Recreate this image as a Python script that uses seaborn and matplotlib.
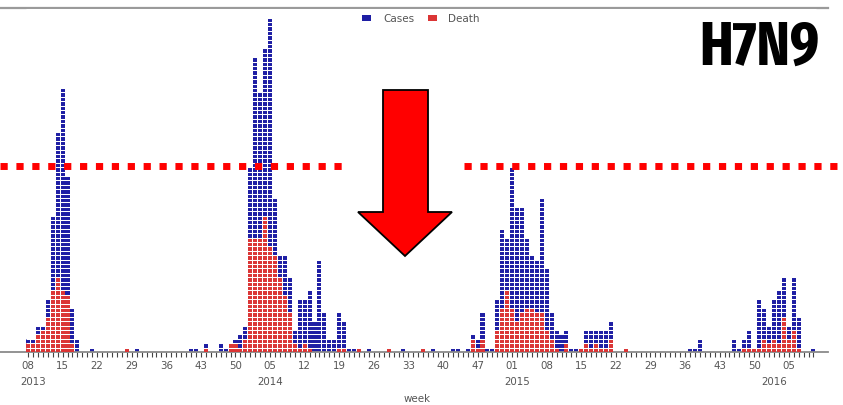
import matplotlib
matplotlib.use("Agg")
import matplotlib.pyplot as plt
import seaborn as sns
import pandas as pd
import numpy as np
from matplotlib.patches import Patch, Polygon
from matplotlib.lines import Line2D
from matplotlib import font_manager
from matplotlib.font_manager import FontProperties

# ---------------- data (weekly counts, week index 0 = 2013 week 08) ----------------
cases = [3, 3, 6, 6, 12, 31, 50, 60, 40, 10,
         3, 0, 0, 1, 0, 0, 0, 0, 0, 0,
         1, 0, 1, 0, 0, 0, 0, 0, 0, 0,
         0, 0, 0, 1, 1, 0, 2, 0, 0, 2,
         1, 2, 3, 4, 6, 42, 67, 59, 69, 76,
         35, 22, 22, 17, 5, 12, 12, 14, 7, 21,
         9, 3, 3, 9, 7, 1, 1, 1, 0, 1,
         0, 0, 0, 1, 0, 0, 1, 0, 0, 0,
         1, 0, 1, 0, 0, 0, 1, 1, 0, 1,
         4, 3, 9, 1, 1, 12, 28, 26, 42, 33,
         33, 26, 22, 21, 35, 19, 9, 5, 4, 5,
         1, 1, 1, 5, 5, 5, 5, 5, 7, 0,
         0, 1, 0, 0, 0, 0, 0, 0, 0, 0,
         0, 0, 0, 0, 1, 1, 3, 0, 0, 0,
         0, 0, 0, 3, 1, 3, 5, 1, 12, 10,
         6, 12, 14, 17, 6, 17, 8, 0, 0, 1]

deaths = [2, 2, 4, 5, 8, 14, 17, 14, 13, 2,
          0, 0, 0, 0, 0, 0, 0, 0, 0, 0,
          1, 0, 0, 0, 0, 0, 0, 0, 0, 0,
          0, 0, 0, 0, 0, 0, 1, 0, 0, 0,
          0, 2, 2, 1, 3, 26, 26, 26, 31, 24,
          22, 17, 13, 9, 2, 1, 2, 1, 0, 0,
          0, 0, 0, 1, 1, 0, 0, 1, 0, 0,
          0, 0, 0, 1, 0, 0, 0, 0, 0, 0,
          1, 0, 0, 0, 0, 0, 0, 0, 0, 0,
          3, 1, 3, 0, 0, 5, 10, 14, 10, 7,
          9, 10, 10, 9, 9, 5, 3, 1, 0, 2,
          0, 0, 1, 2, 1, 2, 1, 1, 3, 0,
          0, 1, 0, 0, 0, 0, 0, 0, 0, 0,
          0, 0, 0, 0, 0, 0, 0, 0, 0, 0,
          0, 0, 0, 0, 0, 1, 1, 1, 1, 3,
          2, 3, 2, 8, 3, 5, 1, 0, 0, 0]

week_labels = ["08", "15", "22", "29", "36", "43", "50", "05", "12", "19", "26",
               "33", "40", "47", "01", "08", "15", "22", "29", "36", "43", "50", "05"]
year_labels = ["2013", "2014", "2015", "2016"]
year_label_week_idx = [1, 49, 99, 151]
legend_labels = ["Cases", "Death"]
title_text = "H7N9"
xlabel_text = "week"

# ---------------- styling ----------------
W, H = 843, 405
BLUE = "#1e1ea4"
RED = "#db3535"
TXT = "#555555"

sns.set_style("white")
plt.rcParams["font.family"] = ["DejaVu Sans"]

df = pd.DataFrame({"week": np.arange(len(cases)), "cases": cases, "deaths": deaths})

fig = plt.figure(figsize=(W / 100, H / 100), dpi=100)
ax = fig.add_axes([0, (H - 352) / H, 828 / W, (352 - 8) / H])

order = list(df["week"])
sns.barplot(data=df, x="week", y="cases", order=order, color=BLUE, saturation=1,
            width=0.82, errorbar=None, edgecolor="none", linewidth=0, ax=ax, zorder=2)
sns.barplot(data=df, x="week", y="deaths", order=order, color=RED, saturation=1,
            width=0.82, errorbar=None, edgecolor="none", linewidth=0, ax=ax, zorder=3)

n = len(cases)
ymax = 344 / 4.4
ax.set_ylim(0, ymax)
ax.set_xlim(-28 / 4.94, (828 - 28) / 4.94)

# white separators between stacked unit squares
ax.hlines(np.arange(1, int(ymax) + 1), -0.5, n - 0.5, color="white", lw=0.75, zorder=4)

# axes styling
for s in ["left", "right"]:
    ax.spines[s].set_visible(False)
ax.spines["bottom"].set_color("#8a8a8a")
ax.spines["bottom"].set_linewidth(1.3)
ax.spines["top"].set_color("#9a9a9a")
ax.spines["top"].set_linewidth(1.6)
ax.set_yticks([])
ax.set_ylabel("")
ax.set_xlabel("")
ax.set_xticks(range(n))
lbls = [""] * n
for k, lab in enumerate(week_labels):
    lbls[k * 7] = lab
ax.set_xticklabels(lbls, fontsize=7.4, color=TXT)
ax.tick_params(axis="x", length=3.8, width=0.8, color="#444444", pad=2.5, bottom=True)

trans = matplotlib.transforms.blended_transform_factory(ax.transData, fig.transFigure)
for lab, pos in zip(year_labels, year_label_week_idx):
    ax.text(pos, (H - 382) / H, lab, transform=trans, ha="center", va="center",
            fontsize=7.4, color=TXT)
ax.text((417 - 28) / 4.94, (H - 399) / H, xlabel_text, transform=trans, ha="center",
        va="center", fontsize=7.4, color=TXT)

# legend
handles = [Patch(facecolor=BLUE, edgecolor="none"), Patch(facecolor=RED, edgecolor="none")]
fig.legend(handles, legend_labels, loc="center", bbox_to_anchor=(421 / W, (H - 19) / H),
           ncol=2, frameon=False, fontsize=7.5, labelcolor=TXT, handlelength=0.9,
           handleheight=0.55, handletextpad=1.1, columnspacing=1.3)

# red dotted threshold line (interrupted around the arrow)
for x0, x1 in [(0, 346), (464, W)]:
    fig.add_artist(Line2D([x0 / W, x1 / W], [(H - 166) / H] * 2, transform=fig.transFigure,
                          color="#ff0000", lw=5.0, dashes=(1.04, 1.25),
                          solid_capstyle="butt", dash_capstyle="butt", zorder=10))

# big red arrow
pts = [(383, 90), (428, 90), (428, 212), (452, 212), (405, 256), (358, 212), (383, 212)]
pts_f = [(x / W, (H - y) / H) for x, y in pts]
fig.add_artist(Polygon(pts_f, closed=True, transform=fig.transFigure, facecolor="#ff0000",
                       edgecolor="black", lw=1.3, joinstyle="miter", zorder=11))


# H7N9 title: prefer a condensed bold (weight ~700) face if one is installed
def _weight(f):
    w = f.weight
    if isinstance(w, str):
        return {"bold": 700, "heavy": 800, "black": 900, "semibold": 600,
                "demibold": 600, "extra bold": 800}.get(w.lower(), 400)
    return int(w)


def _pick_condensed():
    best = None
    for f in font_manager.fontManager.ttflist:
        fn = f.fname.lower()
        if not fn.endswith((".ttf", ".otf")) or "italic" in fn:
            continue
        tag = (fn + " " + f.name.lower() + " " + str(f.stretch).lower()).replace("semicondensed", "semi")
        if "extracondensed" in tag or "extra-condensed" in tag:
            rank = 0
        elif "condensed" in tag:
            rank = 1
        elif "narrow" in tag:
            rank = 2
        else:
            continue
        score = (abs(_weight(f) - 700), rank)
        if best is None or score < best[0]:
            best = (score, f.fname)
    return best[1] if best else None


fpath = _pick_condensed()
if fpath:
    fp = FontProperties(fname=fpath, size=44)
else:
    fp = FontProperties(family=["Roboto", "DejaVu Sans"], weight="bold", size=42)
fig.text(820 / W, (H - 65) / H, title_text, ha="right", va="baseline",
         fontproperties=fp, color="black", zorder=12)

fig.savefig("out.png", dpi=100)
